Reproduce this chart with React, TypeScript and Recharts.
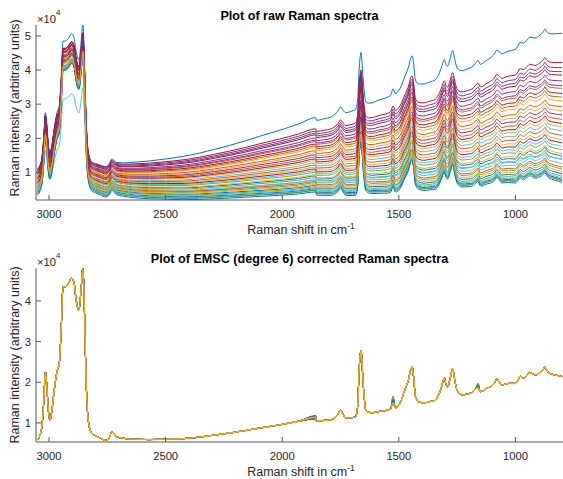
import React from 'react'
import { LineChart, Line, XAxis, YAxis } from 'recharts'

// MATLAB default line colour order
const COLORS = ['#0072BD', '#D95319', '#EDB120', '#7E2F8E', '#77AC30', '#4DBEEE', '#A2142F']
const AXIS = '#555555'
const TEXT = '#262626'
const FONT = "'Liberation Sans', Arial, Helvetica, sans-serif"

// Raman shift grid (cm-1), descending
const wavenumbers = [
  3050, 3040, 3030, 3022, 3016, 3010, 3003, 2996, 2988, 2978,
  2967, 2956, 2948, 2940, 2930, 2918, 2903, 2892, 2885, 2872,
  2863, 2855, 2848, 2842, 2832, 2818, 2800, 2782, 2756, 2740,
  2731, 2720, 2712, 2680, 2640, 2570, 2500, 2430, 2355, 2290,
  2227, 2160, 2100, 2013, 1930, 1857, 1853, 1820, 1790, 1771,
  1760, 1750, 1740, 1728, 1700, 1686, 1676, 1671, 1666, 1662,
  1658, 1654, 1648, 1642, 1630, 1614, 1585, 1550, 1535, 1525,
  1515, 1500, 1490, 1479, 1465, 1457, 1450, 1443, 1436, 1429,
  1415, 1393, 1370, 1343, 1325, 1315, 1305, 1298, 1291, 1280,
  1269, 1260, 1251, 1240, 1229, 1200, 1187, 1172, 1160, 1151,
  1140, 1130, 1108, 1090, 1080, 1070, 1058, 1045, 1030, 1001,
  990, 980, 966, 950, 938, 916, 895, 880, 874, 866,
  859, 845, 831, 815, 800,
]

// EMSC corrected spectrum (x10^4)
const emscRef = [
  0.58, 0.68, 0.95, 1.6, 2.25, 1.95, 1.3, 1.07, 1.3, 1.8,
  2.23, 2.47, 3.3, 4.35, 4.35, 4.42, 4.56, 4.42, 4.07, 3.78,
  4.25, 4.81, 3.7, 2.23, 1.07, 0.75, 0.68, 0.63, 0.57, 0.66,
  0.78, 0.72, 0.66, 0.62, 0.6, 0.59, 0.6, 0.61, 0.65, 0.7,
  0.75, 0.81, 0.87, 0.95, 1.04, 1.14, 1.05, 1.06, 1.08, 1.15,
  1.22, 1.32, 1.22, 1.12, 1.13, 1.15, 1.45, 2.22, 2.65, 2.79,
  2.5, 2.06, 1.6, 1.32, 1.26, 1.25, 1.28, 1.31, 1.35, 1.52,
  1.37, 1.44, 1.55, 1.74, 1.95, 2.1, 2.3, 2.37, 2.1, 1.65,
  1.52, 1.49, 1.52, 1.56, 1.75, 1.93, 2.1, 1.95, 1.89, 2.1,
  2.33, 2.05, 1.81, 1.72, 1.69, 1.72, 1.74, 1.83, 1.9, 1.77,
  1.78, 1.83, 1.89, 1.98, 2.08, 2.02, 1.93, 1.95, 1.97, 1.97,
  2.05, 2.15, 2.1, 2.18, 2.24, 2.18, 2.24, 2.32, 2.38, 2.3,
  2.24, 2.2, 2.18, 2.16, 2.14,
]

// relative fluorescence background (0 at high shift -> 1 at 800)
const bgShape = [
  0, 0, 0, 0, 0, 0, 0, 0, 0, 0,
  0, 0, 0, 0, 0, 0, 0, 0.003, 0.005, 0.008,
  0.01, 0.013, 0.016, 0.018, 0.02, 0.025, 0.03, 0.035, 0.04, 0.045,
  0.048, 0.051, 0.054, 0.065, 0.08, 0.1, 0.12, 0.145, 0.17, 0.195,
  0.22, 0.25, 0.28, 0.32, 0.36, 0.395, 0.4, 0.415, 0.43, 0.44,
  0.445, 0.45, 0.457, 0.463, 0.48, 0.49, 0.495, 0.498, 0.5, 0.503,
  0.505, 0.508, 0.51, 0.515, 0.52, 0.53, 0.55, 0.57, 0.58, 0.585,
  0.59, 0.6, 0.605, 0.61, 0.62, 0.625, 0.63, 0.633, 0.636, 0.64,
  0.645, 0.655, 0.665, 0.68, 0.69, 0.695, 0.7, 0.703, 0.706, 0.71,
  0.715, 0.72, 0.725, 0.73, 0.735, 0.75, 0.757, 0.765, 0.772, 0.778,
  0.785, 0.79, 0.805, 0.817, 0.823, 0.83, 0.837, 0.845, 0.855, 0.873,
  0.88, 0.886, 0.895, 0.905, 0.912, 0.925, 0.937, 0.946, 0.95, 0.955,
  0.96, 0.968, 0.977, 0.988, 1,
]

// per spectrum: peak gain, background at the CH end and at 800 cm-1 (x10^4)
const peakGain = [
  1.0, 0.95, 0.96, 0.94, 0.96, 0.95, 0.94, 0.96, 0.95, 0.95,
  0.94, 0.96, 0.72, 0.95, 0.96, 0.95, 0.95, 0.94, 0.96, 0.95,
  0.95, 0.96, 0.95, 0.95, 0.94, 0.96, 0.95, 0.95, 0.97, 0.95,
  0.95, 0.95, 0.96, 0.96, 0.95, 0.97, 0.95, 0.96,
]
const bgLeft = [
  0.5, 0.42, 0.36, 0.53, 0.1, 0.2, 0.55, 0.05, 0.38, 0.31,
  0.51, 0.03, 0.02, 0.49, -0.08, 0.33, 0.23, 0.46, -0.04, 0.12,
  0.4, -0.14, 0.27, 0.16, 0.44, -0.1, 0.01, 0.25, -0.19, 0.18,
  0.07, 0.29, -0.17, -0.12, 0.14, -0.23, -0.01, -0.06,
]
const bgRight = [
  2.94, 1.43, 1.04, 2.06, -0.39, 0.18, 2.21, -0.58, 1.17, 0.77,
  1.94, -0.68, -0.15, 1.82, -1.1, 0.89, 0.3, 1.67, -0.96, -0.27,
  1.28, -1.26, 0.52, -0.07, 1.53, -1.17, -0.78, 0.4, -1.32, 0.05,
  -0.49, 0.65, -1.29, -1.22, -0.17, -1.37, -0.88, -1.03,
]

// corrected spectra: values that differ between samples (x10^4)
const band1525 = [
  1.58, 1.53, 1.52, 1.55, 1.66, 1.56, 1.54, 1.6, 1.52, 1.51,
  1.56, 1.63, 1.57, 1.53, 1.59, 1.5, 1.52, 1.55, 1.65, 1.55,
  1.52, 1.61, 1.51, 1.5, 1.57, 1.62, 1.54, 1.51, 1.57, 1.5,
  1.52, 1.54, 1.64, 1.55, 1.52, 1.58, 1.5, 1.49,
]
const band1160 = [
  1.93, 1.88, 1.87, 1.89, 1.98, 1.9, 1.88, 1.94, 1.87, 1.87,
  1.9, 1.96, 1.91, 1.88, 1.93, 1.86, 1.87, 1.89, 1.97, 1.9,
  1.87, 1.94, 1.87, 1.86, 1.9, 1.95, 1.89, 1.87, 1.92, 1.86,
  1.87, 1.89, 1.96, 1.9, 1.87, 1.92, 1.86, 1.86,
]
const edge1857 = [
  1.18, 1.14, 1.13, 1.1, 1.15, 1.14, 1.12, 1.17, 1.13, 1.13,
  1.1, 1.15, 1.14, 1.12, 1.16, 1.13, 1.13, 1.1, 1.15, 1.14,
  1.12, 1.16, 1.13, 1.13, 1.11, 1.15, 1.14, 1.12, 1.16, 1.13,
  1.13, 1.11, 1.15, 1.14, 1.12, 1.17, 1.13, 1.14,
]

const xTicks = [3000, 2500, 2000, 1500, 1000]
const rawYTicks = [1, 2, 3, 4, 5]
const emscYTicks = [1, 2, 3, 4]
const xDomain = [796, 3056]

const rawData = wavenumbers.map((wn, k) => {
  const row: Record<string, number> = { wn }
  bgLeft.forEach((left, i) => {
    row[`s${i}`] = peakGain[i] * emscRef[k] + left + (bgRight[i] - left) * bgShape[k]
  })
  return row
})

const emscData = wavenumbers.map((wn, k) => {
  const row: Record<string, number> = { wn }
  bgLeft.forEach((_, i) => {
    let v = emscRef[k]
    if (wn === 1525) v = band1525[i]
    else if (wn === 1160) v = band1160[i]
    else if (wn === 1857) v = edge1857[i]
    row[`s${i}`] = v
  })
  return row
})

const seriesKeys = bgLeft.map((_, i) => `s${i}`)

// ticks drawn inward, like MATLAB
const BottomTick = (props: any) => {
  const { x, y, payload } = props
  return (
    <g>
      <line x1={x} x2={x} y1={y} y2={y - 5} stroke={AXIS} />
      <text x={x} y={y + 17.5} textAnchor="middle" fontSize={11.2} fontFamily={FONT} fill={TEXT}>
        {payload.value}
      </text>
    </g>
  )
}
const TopTick = (props: any) => {
  const { x, y } = props
  return <line x1={x} x2={x} y1={y} y2={y + 5} stroke={AXIS} />
}
const LeftTick = (props: any) => {
  const { x, y, payload } = props
  return (
    <g>
      <line x1={x} x2={x + 5} y1={y} y2={y} stroke={AXIS} />
      <text x={x - 5} y={y + 4} textAnchor="end" fontSize={11.2} fontFamily={FONT} fill={TEXT}>
        {payload.value}
      </text>
    </g>
  )
}
const RightTick = (props: any) => {
  const { x, y } = props
  return <line x1={x} x2={x - 5} y1={y} y2={y} stroke={AXIS} />
}

function spectraLines(lastWidth: number) {
  return seriesKeys.map((key, i) => (
    <Line
      key={key}
      dataKey={key}
      type="monotone"
      stroke={COLORS[i % COLORS.length]}
      strokeWidth={i === seriesKeys.length - 1 ? lastWidth : 1}
      dot={false}
      activeDot={false}
      isAnimationActive={false}
    />
  ))
}

export default function App() {
  return (
    <div style={{ position: 'absolute', left: 0, top: 0, width: 563, height: 479, overflow: 'hidden', background: '#fff' }}>
      <div style={{ position: 'absolute', left: 0, top: 0 }}>
        <LineChart width={565} height={240} data={rawData} margin={{ top: 25, right: 2, bottom: 0, left: 0 }}>
          <XAxis
            dataKey="wn"
            type="number"
            domain={xDomain}
            reversed
            allowDataOverflow
            ticks={xTicks}
            interval={0}
            height={40}
            tickSize={0}
            tickMargin={0}
            tickLine={false}
            tick={BottomTick}
            stroke={AXIS}
          />
          <YAxis
            type="number"
            domain={[0.19, 5.32]}
            allowDataOverflow
            ticks={rawYTicks}
            interval={0}
            width={36}
            tickSize={0}
            tickMargin={0}
            tickLine={false}
            tick={LeftTick}
            stroke={AXIS}
          />
          {spectraLines(1)}
        </LineChart>
      </div>
      <div style={{ position: 'absolute', left: 0, top: 240 }}>
        <LineChart width={565} height={239} data={emscData} margin={{ top: 28, right: 2, bottom: 0, left: 0 }}>
          <XAxis
            dataKey="wn"
            type="number"
            domain={xDomain}
            reversed
            allowDataOverflow
            ticks={xTicks}
            interval={0}
            height={37}
            tickSize={0}
            tickMargin={0}
            tickLine={false}
            tick={BottomTick}
            stroke={AXIS}
          />
          <XAxis
            xAxisId="top"
            orientation="top"
            dataKey="wn"
            type="number"
            domain={xDomain}
            reversed
            allowDataOverflow
            ticks={xTicks}
            interval={0}
            height={0}
            tickSize={0}
            tickMargin={0}
            tickLine={false}
            tick={TopTick}
            stroke={AXIS}
          />
          <YAxis
            type="number"
            domain={[0.53, 4.81]}
            allowDataOverflow
            ticks={emscYTicks}
            interval={0}
            width={36}
            tickSize={0}
            tickMargin={0}
            tickLine={false}
            tick={LeftTick}
            stroke={AXIS}
          />
          <YAxis
            yAxisId="right"
            orientation="right"
            type="number"
            domain={[0.53, 4.81]}
            allowDataOverflow
            ticks={emscYTicks}
            interval={0}
            width={0}
            tickSize={0}
            tickMargin={0}
            tickLine={false}
            tick={RightTick}
            stroke={AXIS}
          />
          {spectraLines(1.4)}
        </LineChart>
      </div>
      <svg width={563} height={479} style={{ position: 'absolute', left: 0, top: 0, pointerEvents: 'none' }} fontFamily={FONT}>
        <text x={299.5} y={20} textAnchor="middle" fontSize={12.6} fontWeight="bold" fill="#000">
          Plot of raw Raman spectra
        </text>
        <text x={37} y={23} fontSize={11.2} fill={TEXT}>×10</text>
        <text x={56} y={15} fontSize={8} fill={TEXT}>4</text>
        <text x={301} y={234} textAnchor="middle" fontSize={12.5} fill={TEXT}>
          Raman shift in cm<tspan dy={-5} fontSize={8.5}>-1</tspan>
        </text>
        <text x={19} y={108} transform="rotate(-90 19 108)" textAnchor="middle" fontSize={12.5} fill={TEXT}>
          Raman intensity (arbitrary units)
        </text>

        <text x={299.5} y={263} textAnchor="middle" fontSize={12.6} fontWeight="bold" fill="#000">
          Plot of EMSC (degree 6) corrected Raman spectra
        </text>
        <text x={37} y={266} fontSize={11.2} fill={TEXT}>×10</text>
        <text x={56} y={258} fontSize={8} fill={TEXT}>4</text>
        <text x={301} y={476} textAnchor="middle" fontSize={12.5} fill={TEXT}>
          Raman shift in cm<tspan dy={-5} fontSize={8.5}>-1</tspan>
        </text>
        <text x={19} y={355} transform="rotate(-90 19 355)" textAnchor="middle" fontSize={12.5} fill={TEXT}>
          Raman intensity (arbitrary units)
        </text>
      </svg>
    </div>
  )
}
